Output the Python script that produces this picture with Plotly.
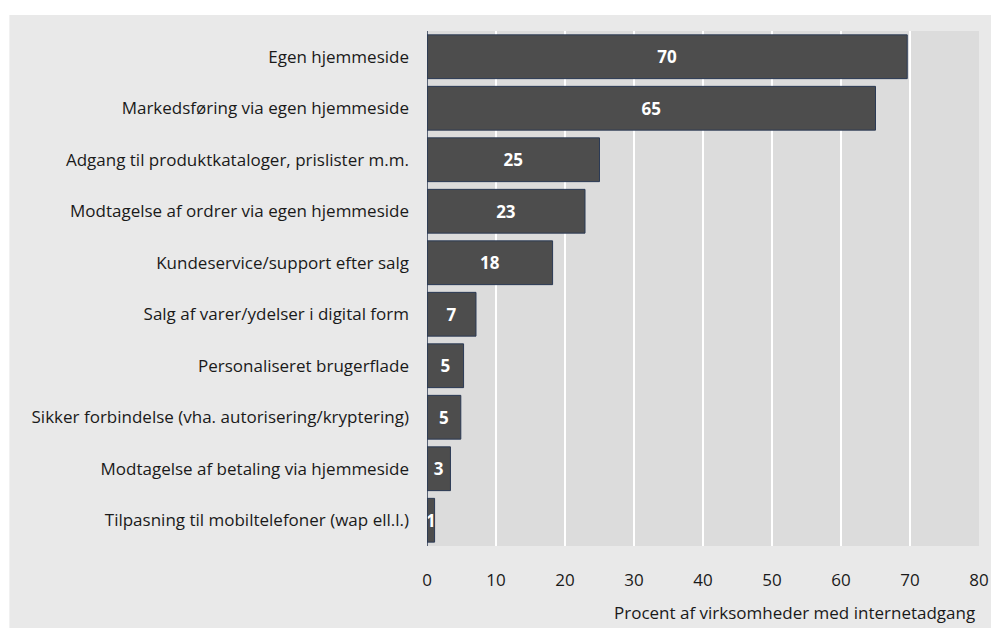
import plotly.graph_objects as go

categories = [
    "Egen hjemmeside",
    "Markedsføring via egen hjemmeside",
    "Adgang til produktkataloger, prislister m.m.",
    "Modtagelse af ordrer via egen hjemmeside",
    "Kundeservice/support efter salg",
    "Salg af varer/ydelser i digital form",
    "Personaliseret brugerflade",
    "Sikker forbindelse (vha. autorisering/kryptering)",
    "Modtagelse af betaling via hjemmeside",
    "Tilpasning til mobiltelefoner (wap ell.l.)",
]
values = [69.6, 65.0, 25.0, 22.9, 18.2, 7.1, 5.3, 4.9, 3.4, 1.1]
x_ticks = [0, 10, 20, 30, 40, 50, 60, 70, 80]
x_title = "Procent af virksomheder med internetadgang"

FONT = "Open Sans, Roboto, Arial, sans-serif"

W, H = 991, 628
ML, MR, MT, MB = 427, 11.5, 31, 82
pw = W - ML - MR
ph = H - MT - MB

def px_to_paper_x(px):
    return (px - ML) / pw

def px_to_paper_y(py):
    return (H - MB - py) / ph

fig = go.Figure()
fig.add_trace(go.Bar(
    x=values,
    y=categories,
    orientation="h",
    marker=dict(color="#4d4d4d", line=dict(color="#2b3a55", width=1)),
    texttemplate="%{x:.0f}",
    textposition="inside",
    insidetextanchor="middle",
    textangle=0,
    textfont=dict(color="white", size=17, family=FONT, weight="bold"),
    hoverinfo="x+y",
))

fig.update_layout(
    width=W,
    height=H,
    autosize=False,
    margin=dict(l=ML, r=MR, t=MT, b=MB, pad=0, autoexpand=False),
    paper_bgcolor="#e9e9e9",
    plot_bgcolor="#dcdcdc",
    bargap=0.15,
    showlegend=False,
    uniformtext=dict(mode="show", minsize=16),
    font=dict(family=FONT, size=17, color="#1a1a1a"),
    xaxis=dict(
        range=[0, 80],
        tickvals=x_ticks,
        showgrid=True,
        gridcolor="white",
        gridwidth=2,
        zeroline=False,
        showline=False,
        ticks="",
        ticklabelstandoff=22,
        tickfont=dict(size=17, family=FONT, color="#1a1a1a"),
        fixedrange=True,
        automargin=False,
    ),
    yaxis=dict(
        autorange="reversed",
        showgrid=False,
        zeroline=False,
        showline=False,
        ticks="",
        ticklabelstandoff=17,
        tickfont=dict(size=17, family=FONT, color="#1a1a1a"),
        fixedrange=True,
        automargin=False,
    ),
    shapes=[
        # white strip on top
        dict(type="rect", xref="paper", yref="paper",
             x0=px_to_paper_x(-2), x1=px_to_paper_x(W + 2),
             y0=px_to_paper_y(15), y1=px_to_paper_y(-2),
             fillcolor="white", line=dict(width=0), layer="below"),
        # white strip on left
        dict(type="rect", xref="paper", yref="paper",
             x0=px_to_paper_x(-2), x1=px_to_paper_x(9),
             y0=px_to_paper_y(H + 2), y1=px_to_paper_y(-2),
             fillcolor="white", line=dict(width=0), layer="below"),
        # value axis line at zero
        dict(type="line", xref="x", yref="paper",
             x0=0, x1=0, y0=0, y1=1,
             line=dict(color="#2b3a55", width=1.5), layer="above"),
    ],
    annotations=[
        dict(text=x_title, xref="paper", yref="paper",
             x=px_to_paper_x(977), y=px_to_paper_y(612),
             xanchor="right", yanchor="middle", showarrow=False,
             font=dict(size=17, family=FONT, color="#1a1a1a")),
    ],
)

fig.write_html(
    "out.html",
    config={"displayModeBar": False},
    post_script="document.body.style.margin='0';document.body.style.overflow='hidden';",
)
